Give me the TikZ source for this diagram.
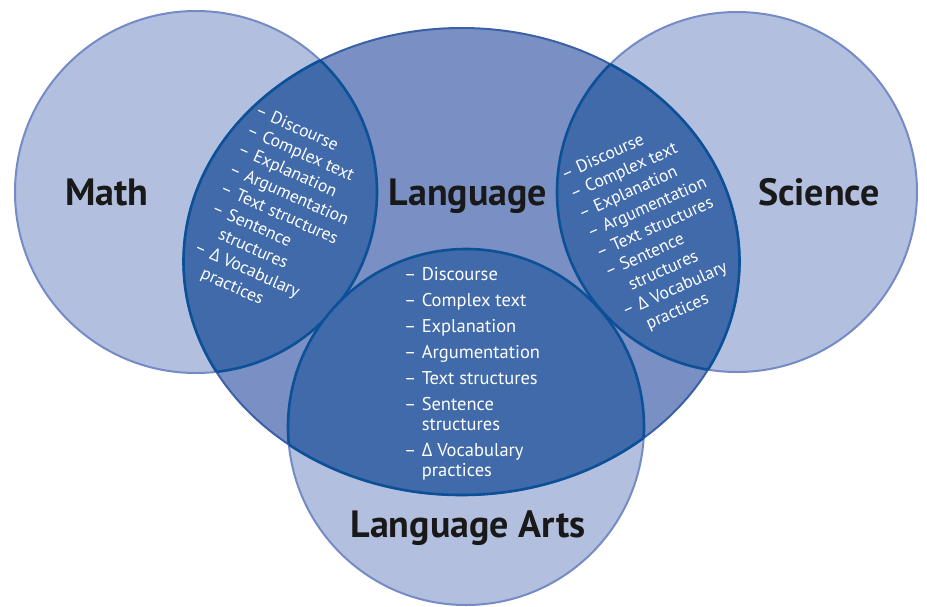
\documentclass[tikz,border=0pt]{standalone}
\usepackage{fontspec}
\setmainfont{PT Sans}
\newfontfamily\grk{Open Sans}
\usetikzlibrary{positioning}

\definecolor{lightfill}{HTML}{B3BFDE}
\definecolor{lightline}{HTML}{748BC6}
\definecolor{langfill}{HTML}{7A90C4}
\definecolor{langline}{HTML}{3A61A7}
\definecolor{lensfill}{HTML}{406AAA}
\definecolor{lensline}{HTML}{0C5098}

\newcommand{\vitem}[1]{\makebox[0.95em][l]{--}#1}
\newcommand{\vwrap}[1]{\hspace*{0.95em}#1}
\newcommand{\vdelta}{{\grk\char"0394}}

\tikzset{
  subject/.style={font=\fontsize{38}{40}\selectfont\bfseries, text=black!90, anchor=base},
  bigitems/.style={font=\fontsize{18.5}{20}\selectfont, text=white, align=left, inner sep=0pt},
  lensitems/.style={font=\fontsize{17.5}{21.4}\selectfont, text=white, align=left, inner sep=0pt}
}

\begin{document}
\begin{tikzpicture}[x=1pt, y=-1pt]
\useasboundingbox (0,0) rectangle (927,606);

\def\mathc{(196,192) circle [radius=181]}
\def\scic{(737,192) circle [radius=180]}
\def\artsc{(466,427) circle [radius=178]}
\def\langc{(461.5,261.5) ellipse [x radius=278, y radius=233.5]}

% outer circles
\fill[lightfill] \mathc;
\fill[lightfill] \scic;
\fill[lightfill] \artsc;
\draw[lightline, line width=2pt] \mathc;
\draw[lightline, line width=2pt] \scic;
\draw[lightline, line width=2pt] \artsc;

% language
\fill[langfill] \langc;
\draw[langline, line width=2pt] \langc;

% overlaps
\foreach \c in {\mathc, \scic, \artsc} {
  \begin{scope}
    \clip \langc;
    \fill[lensfill] \c;
    \draw[lensline, line width=2.6pt] \c;
  \end{scope}
  \begin{scope}
    \clip \c;
    \draw[lensline, line width=2.6pt] \langc;
  \end{scope}
}

% labels
\node[subject] (math) at (107,205) {Math};
\node[subject] (lang) at (468,205) {Language};
\node[subject] (sci) at (819,205) {Science};
\node[subject] (arts) at (468,537) {Language Arts};

% lists
\node[bigitems, anchor=north west] (artslist) at (404,267) {%
  \vitem{Discourse}\\[6pt]
  \vitem{Complex text}\\[6pt]
  \vitem{Explanation}\\[6pt]
  \vitem{Argumentation}\\[6pt]
  \vitem{Text structures}\\[6pt]
  \vitem{Sentence}\\
  \vwrap{structures}\\[6pt]
  \vitem{\vdelta\ Vocabulary}\\
  \vwrap{practices}};

\node[lensitems, rotate=-24] (mathlist) at (280,215) {%
  \vitem{Discourse}\\
  \vitem{Complex text}\\
  \vitem{Explanation}\\
  \vitem{Argumentation}\\
  \vitem{Text structures}\\
  \vitem{Sentence}\\
  \vwrap{structures}\\
  \vitem{\vdelta\ Vocabulary}\\
  \vwrap{practices}};

\node[lensitems, rotate=24] (scilist) at (656,228) {%
  \vitem{Discourse}\\
  \vitem{Complex text}\\
  \vitem{Explanation}\\
  \vitem{Argumentation}\\
  \vitem{Text structures}\\
  \vitem{Sentence}\\
  \vwrap{structures}\\
  \vitem{\vdelta\ Vocabulary}\\
  \vwrap{practices}};
\end{tikzpicture}
\end{document}
